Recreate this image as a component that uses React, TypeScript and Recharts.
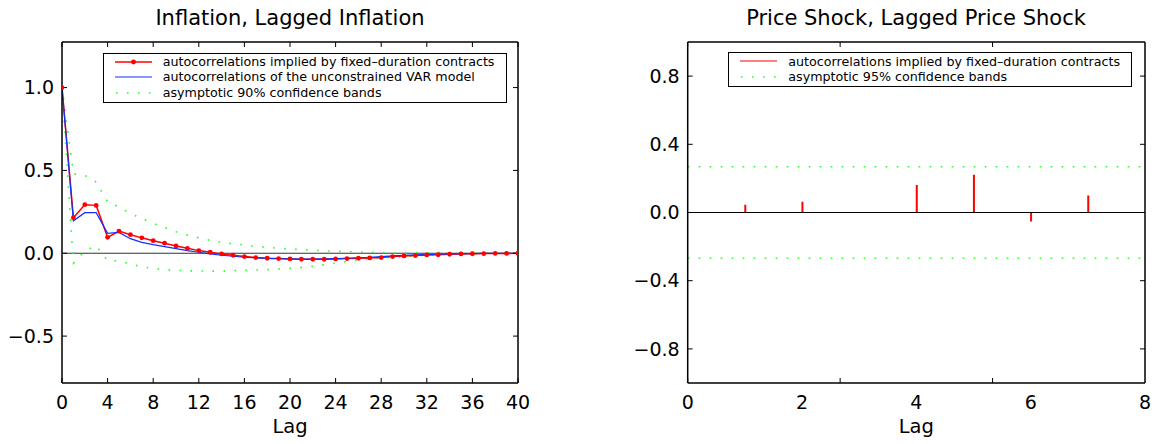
import { ComposedChart, Line, Bar, XAxis, YAxis, ReferenceLine } from "recharts";

const FONT = "'DejaVu Sans', sans-serif";

// left panel: inflation vs lagged inflation
const lags = [
  0, 1, 2, 3, 4, 5, 6, 7, 8, 9, 10, 11, 12, 13, 14, 15, 16, 17, 18, 19, 20,
  21, 22, 23, 24, 25, 26, 27, 28, 29, 30, 31, 32, 33, 34, 35, 36, 37, 38, 39, 40,
];
const impliedAcf = [
  1.0, 0.215, 0.293, 0.289, 0.096, 0.134, 0.112, 0.093, 0.076, 0.061, 0.044,
  0.03, 0.016, 0.006, -0.004, -0.012, -0.02, -0.026, -0.03, -0.032, -0.034,
  -0.036, -0.036, -0.036, -0.034, -0.032, -0.03, -0.028, -0.026, -0.02, -0.016,
  -0.014, -0.01, -0.009, -0.006, -0.004, -0.003, -0.002, -0.001, -0.001, 0,
];
const varAcf = [
  1.0, 0.196, 0.245, 0.245, 0.12, 0.126, 0.088, 0.066, 0.052, 0.04, 0.028,
  0.016, 0.006, -0.004, -0.012, -0.018, -0.024, -0.028, -0.031, -0.033, -0.034,
  -0.035, -0.035, -0.034, -0.032, -0.03, -0.027, -0.024, -0.02, -0.016, -0.012,
  -0.01, -0.008, -0.006, -0.004, -0.003, -0.002, -0.001, 0, 0, 0,
];
const band90Upper = [
  1.0, 0.48, 0.47, 0.43, 0.31, 0.28, 0.24, 0.21, 0.18, 0.155, 0.13, 0.11, 0.093,
  0.078, 0.066, 0.057, 0.05, 0.042, 0.036, 0.03, 0.026, 0.022, 0.018, 0.015,
  0.012, 0.01, 0.008, 0.006, 0.004, 0.002, 0.001, 0.002, 0.003, 0.004, 0.004,
  0.004, 0.004, 0.003, 0.003, 0.002, 0.002,
];
const band90Lower = [
  1.0, -0.06, 0.015, 0.045, -0.045, -0.045, -0.065, -0.082, -0.092, -0.099,
  -0.103, -0.106, -0.107, -0.108, -0.107, -0.105, -0.103, -0.1, -0.099, -0.095,
  -0.091, -0.085, -0.078, -0.07, -0.06, -0.05, -0.04, -0.032, -0.028, -0.025,
  -0.02, -0.016, -0.011, -0.007, -0.004, -0.002, -0.001, 0, 0, 0, 0,
];
const lagTicks = [0, 4, 8, 12, 16, 20, 24, 28, 32, 36, 40];
const inflationTicks = [-0.5, 0, 0.5, 1.0];

// right panel: price shock vs lagged price shock
const shockLags = [1, 2, 3, 4, 5, 6, 7];
const shockAcf = [0.045, 0.063, 0.003, 0.162, 0.222, -0.053, 0.1];
const band95 = 0.268;
const shockLagTicks = [0, 2, 4, 6, 8];
const shockTicks = [-0.8, -0.4, 0, 0.4, 0.8];

const inflationRows = lags.map((lag, i) => ({
  lag,
  implied: impliedAcf[i],
  var: varAcf[i],
  upper: band90Upper[i],
  lower: band90Lower[i],
}));
const shockRows = shockLags.map((lag, i) => ({ lag, acf: shockAcf[i] }));

const RED = "#ff0000";
const BLUE = "#1030ff";
const GREEN = "#22ff22";
const DOTS = "1.6 9.4";

const tickFont = { fill: "#000", fontSize: 19, fontFamily: FONT };
const frameLine = { stroke: "#000", strokeWidth: 1.5 };
const tickStroke = { stroke: "#000", strokeWidth: 1 };

const fmt = (v: number) =>
  v < 0 ? "\u2212" + Math.abs(v).toFixed(1) : v.toFixed(1);

// tick label that draws nothing, so only the tick line stays
const NoLabel = () => <g />;

// box + inward ticks, the MATLAB look
function frameAxes(xDomain: number[], xTicks: number[], yDomain: number[], yTicks: number[]) {
  return [
    <XAxis key="xt" xAxisId="top" orientation="top" type="number" domain={xDomain} ticks={xTicks}
      mirror tick={NoLabel} tickSize={5} axisLine={frameLine} tickLine={tickStroke} allowDataOverflow />,
    <XAxis key="xbi" xAxisId="bottomIn" type="number" domain={xDomain} ticks={xTicks}
      mirror tick={NoLabel} tickSize={5} axisLine={false} tickLine={tickStroke} allowDataOverflow />,
    <YAxis key="yli" yAxisId="leftIn" type="number" domain={yDomain} ticks={yTicks}
      mirror tick={NoLabel} tickSize={5} axisLine={false} tickLine={tickStroke} allowDataOverflow />,
    <YAxis key="yr" yAxisId="right" orientation="right" type="number" domain={yDomain} ticks={yTicks}
      mirror tick={NoLabel} tickSize={5} axisLine={frameLine} tickLine={tickStroke} allowDataOverflow />,
  ];
}

type LegendItem = { label: string; kind: "dotline" | "line" | "dots"; color: string };

function LegendBox({ left, top, items }: { left: number; top: number; items: LegendItem[] }) {
  return (
    <div
      style={{
        position: "absolute", left, top, width: 404, boxSizing: "border-box",
        border: "1.5px solid #000", background: "#fff", paddingBottom: 1.5,
        fontFamily: FONT, fontSize: 12.7, color: "#000",
      }}
    >
      {items.map((it) => (
        <div key={it.label} style={{ display: "flex", alignItems: "center", height: 15.5 }}>
          <svg width={59} height={15.5} style={{ flex: "none" }}>
            {it.kind === "dots" ? (
              <line x1={11} x2={48} y1={8} y2={8} stroke={it.color} strokeWidth={1.6} strokeDasharray="1.6 9.4" strokeDashoffset={-1} />
            ) : (
              <line x1={11} x2={48} y1={8} y2={8} stroke={it.color} strokeWidth={it.kind === "dotline" ? 1.5 : 1.2} />
            )}
            {it.kind === "dotline" && <circle cx={29.5} cy={8} r={2.4} fill={it.color} />}
          </svg>
          <span style={{ whiteSpace: "nowrap" }}>{it.label}</span>
        </div>
      ))}
    </div>
  );
}

export default function App() {
  return (
    <div style={{ position: "absolute", left: 0, top: 0, width: 1161, height: 444, background: "#fff", fontFamily: FONT }}>
      <svg width={1161} height={40} style={{ position: "absolute", left: 0, top: 0 }}>
        <text x={290} y={25} textAnchor="middle" fontSize={21} fontFamily={FONT} fill="#000">
          Inflation, Lagged Inflation
        </text>
        <text x={916} y={25} textAnchor="middle" fontSize={21} fontFamily={FONT} fill="#000">
          Price Shock, Lagged Price Shock
        </text>
      </svg>

      <div style={{ position: "absolute", left: 0, top: 0 }}>
        <ComposedChart width={580} height={444} data={inflationRows} margin={{ top: 42, right: 62, bottom: 0, left: 0 }}>
          <XAxis xAxisId="b" dataKey="lag" type="number" domain={[0, 40]} ticks={lagTicks}
            tickLine={false} tickSize={0} tickMargin={13} height={61} axisLine={frameLine} tick={tickFont}
            allowDataOverflow
            label={{ value: "Lag", position: "insideBottom", offset: 11, fill: "#000", fontSize: 19.5, fontFamily: FONT }} />
          <YAxis yAxisId="l" type="number" domain={[-0.783, 1.275]} ticks={inflationTicks}
            tickLine={false} tickSize={0} tickMargin={8} width={62} axisLine={frameLine} tick={tickFont}
            tickFormatter={fmt} allowDataOverflow />
          {frameAxes([0, 40], lagTicks, [-0.783, 1.275], inflationTicks)}
          <ReferenceLine xAxisId="b" yAxisId="l" y={0} stroke="#333" strokeWidth={1.2} />
          <Line xAxisId="b" yAxisId="l" dataKey="upper" type="linear" stroke={GREEN} strokeWidth={1.6}
            strokeDasharray={DOTS} dot={false} isAnimationActive={false} />
          <Line xAxisId="b" yAxisId="l" dataKey="lower" type="linear" stroke={GREEN} strokeWidth={1.6}
            strokeDasharray={DOTS} dot={false} isAnimationActive={false} />
          <Line xAxisId="b" yAxisId="l" dataKey="implied" type="linear" stroke={RED} strokeWidth={1.5}
            dot={{ r: 2.4, fill: RED, stroke: RED, strokeWidth: 0 }} isAnimationActive={false} />
          <Line xAxisId="b" yAxisId="l" dataKey="var" type="linear" stroke={BLUE} strokeWidth={1.2}
            dot={false} isAnimationActive={false} />
        </ComposedChart>
      </div>

      <div style={{ position: "absolute", left: 580, top: 0 }}>
        <ComposedChart width={581} height={444} data={shockRows} margin={{ top: 42, right: 16, bottom: 0, left: 47.7 }}>
          <XAxis xAxisId="b" dataKey="lag" type="number" domain={[0, 8]} ticks={shockLagTicks}
            tickLine={false} tickSize={0} tickMargin={13} height={61} axisLine={frameLine} tick={tickFont}
            allowDataOverflow
            label={{ value: "Lag", position: "insideBottom", offset: 11, fill: "#000", fontSize: 19.5, fontFamily: FONT }} />
          <YAxis yAxisId="l" type="number" domain={[-1, 1]} ticks={shockTicks}
            tickLine={false} tickSize={0} tickMargin={8} width={60} axisLine={frameLine} tick={tickFont}
            tickFormatter={fmt} allowDataOverflow />
          {frameAxes([0, 8], shockLagTicks, [-1, 1], shockTicks)}
          <ReferenceLine xAxisId="b" yAxisId="l" y={band95} stroke={GREEN} strokeWidth={1.6} strokeDasharray={DOTS} />
          <ReferenceLine xAxisId="b" yAxisId="l" y={-band95} stroke={GREEN} strokeWidth={1.6} strokeDasharray={DOTS} />
          <ReferenceLine xAxisId="b" yAxisId="l" y={0} stroke="#000" strokeWidth={1.2} />
          <Bar xAxisId="b" yAxisId="l" dataKey="acf" fill={RED} barSize={2} isAnimationActive={false} />
        </ComposedChart>
      </div>

      <LegendBox
        left={102.7}
        top={52.7}
        items={[
          { label: "autocorrelations implied by fixed\u2013duration contracts", kind: "dotline", color: RED },
          { label: "autocorrelations of the unconstrained VAR model", kind: "line", color: BLUE },
          { label: "asymptotic 90% confidence bands", kind: "dots", color: GREEN },
        ]}
      />
      <LegendBox
        left={728.3}
        top={52.3}
        items={[
          { label: "autocorrelations implied by fixed\u2013duration contracts", kind: "line", color: RED },
          { label: "asymptotic 95% confidence bands", kind: "dots", color: GREEN },
        ]}
      />
    </div>
  );
}
